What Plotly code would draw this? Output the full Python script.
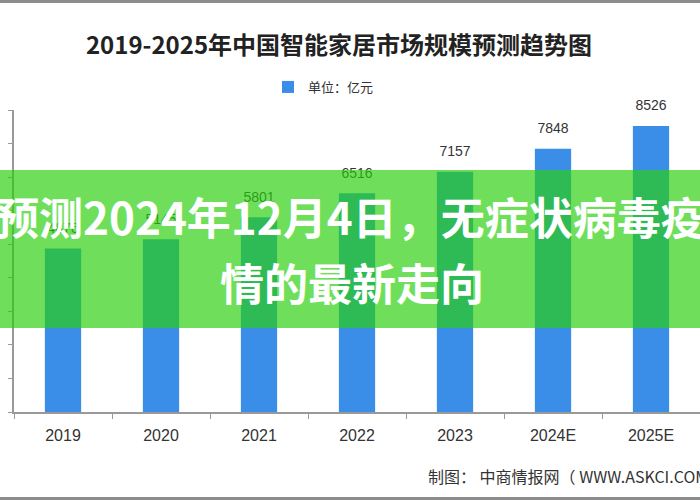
import plotly.graph_objects as go

# ---- data ----
years = ["2019", "2020", "2021", "2022", "2023", "2024E", "2025E"]
market_size = [4876, 5145, 5801, 6516, 7157, 7848, 8526]
series_name = "单位：亿元"
chart_title = "2019-2025年中国智能家居市场规模预测趋势图"
banner_line1_show = "预测2024年12月4日，无症状病毒疫"
banner_line2 = "情的最新走向"
source_text = "制图： 中商情报网（ WWW.ASKCI.COM）"

W, H = 700, 500
L, R, T, B = 14, 0, 110, 88
plot_h = H - T - B
plot_w = W - L - R


def py(p):
    """pixel y -> paper y"""
    return (H - B - p) / plot_h


def px(p):
    return (p - L) / plot_w


BLUE = "#3a8ee8"
CJK = "Noto Sans CJK SC"
LAT = "Liberation Sans, Noto Sans CJK SC"

fig = go.Figure()
fig.add_trace(go.Bar(
    x=years, y=market_size, name=series_name,
    marker=dict(color=BLUE, line=dict(width=0)),
    width=0.37, showlegend=True,
))
# value labels (placed through the axes, drawn beneath the banner)
fig.add_trace(go.Scatter(
    x=years, y=market_size, mode="markers+text",
    text=[str(v) for v in market_size], textposition="top center",
    textfont=dict(family=LAT, size=14, color="#333333"),
    marker=dict(size=18, color="rgba(0,0,0,0)"),
    showlegend=False, hoverinfo="skip", cliponaxis=False,
))

shapes = [
    # green banner overlay
    dict(type="rect", xref="paper", yref="paper",
         x0=px(0), x1=px(W), y0=py(328), y1=py(170),
         fillcolor="rgba(40,208,10,0.67)", line=dict(width=0), layer="above"),
    # top/bottom gray borders
    dict(type="rect", xref="paper", yref="paper",
         x0=px(0), x1=px(W), y0=py(3), y1=py(0),
         fillcolor="#8c8c8c", line=dict(width=0), layer="below"),
    dict(type="rect", xref="paper", yref="paper",
         x0=px(0), x1=px(W), y0=py(500), y1=py(497),
         fillcolor="#8c8c8c", line=dict(width=0), layer="below"),
]

annotations = [
    dict(text=banner_line1_show, xref="paper", yref="paper",
         x=px(350), y=py(216), xanchor="center", yanchor="middle",
         showarrow=False,
         font=dict(family=CJK, size=44, color="white", weight="bold")),
    dict(text=banner_line2, xref="paper", yref="paper",
         x=px(352), y=py(282), xanchor="center", yanchor="middle",
         showarrow=False,
         font=dict(family=CJK, size=44, color="white", weight="bold")),
    dict(text=source_text, xref="paper", yref="paper",
         x=px(426), y=py(476), xanchor="left", yanchor="middle",
         showarrow=False,
         font=dict(family=CJK, size=16, color="#333333")),
]

fig.update_layout(
    width=W, height=H,
    margin=dict(l=L, r=R, t=T, b=B, autoexpand=False),
    paper_bgcolor="white", plot_bgcolor="white",
    title=dict(text=chart_title, x=339 / W, xanchor="center",
               y=1 - 46 / H, yanchor="middle",
               font=dict(family=CJK, size=24, color="#222222", weight="bold")),
    legend=dict(orientation="h", x=px(268), xanchor="left",
                y=py(87), yanchor="middle",
                font=dict(family=CJK, size=13, color="#333333"),
                bgcolor="rgba(0,0,0,0)"),
    shapes=shapes,
    annotations=annotations,
    showlegend=True,
)

fig.update_xaxes(
    type="category", showline=True, linecolor="#999999", linewidth=1.5,
    ticks="outside", tickson="boundaries", ticklen=5, tickcolor="#999999",
    tickfont=dict(family=LAT, size=16, color="#333333"),
    ticklabelstandoff=8, showgrid=False, zeroline=False, fixedrange=True,
)
fig.update_yaxes(
    range=[0, 9000], dtick=1000, showline=True, linecolor="#999999",
    linewidth=1.5, ticks="outside", ticklen=4, tickcolor="#999999",
    showticklabels=False, showgrid=False, zeroline=False, fixedrange=True,
)

fig.write_html(
    "out.html",
    config={"displayModeBar": False},
    post_script="document.body.style.margin='0';document.body.style.overflow='hidden';",
)
